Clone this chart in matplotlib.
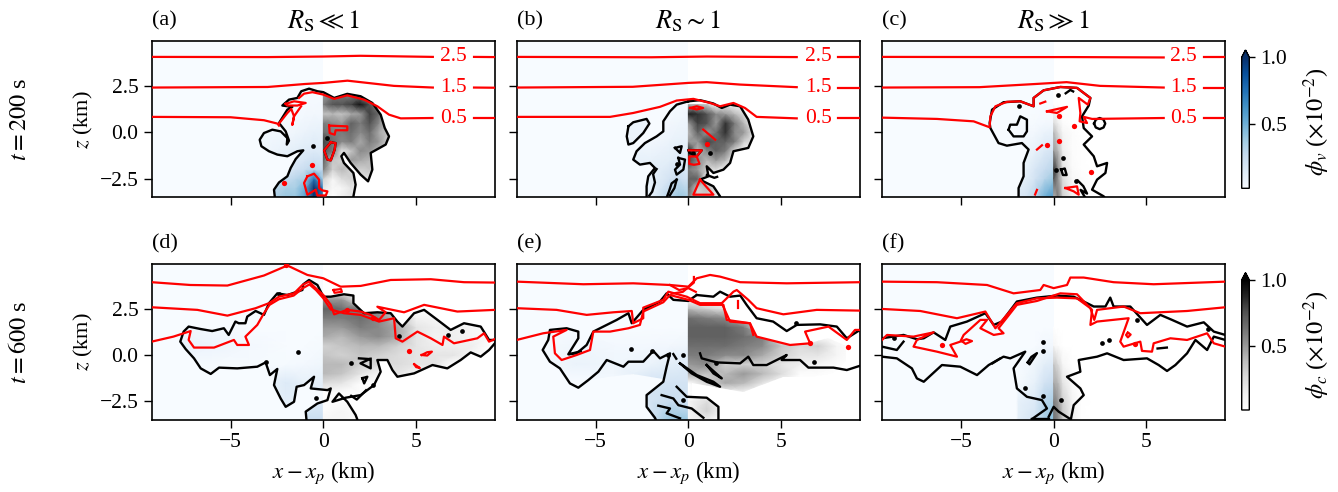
import numpy as np
import matplotlib
matplotlib.use("Agg")
import matplotlib.pyplot as plt
from matplotlib.patches import Polygon
from matplotlib.colors import Normalize
from matplotlib.cm import ScalarMappable

plt.rcParams["font.family"] = ["Liberation Serif", "DejaVu Serif"]
plt.rcParams["mathtext.fontset"] = "stix"

W, H = 1338, 492
XLIM = (-9.25, 9.25)
ZLIM = (-3.5, 4.9)

panel_letters = ["(a)", "(b)", "(c)", "(d)", "(e)", "(f)"]
column_titles = [r"$R_{\mathrm{S}} \ll 1$", r"$R_{\mathrm{S}} \sim 1$", r"$R_{\mathrm{S}} \gg 1$"]
row_times = [r"$t = 200$ s", r"$t = 600$ s"]
x_ticks = [-5, 0, 5]
z_ticks = [-2.5, 0, 2.5]
z_tick_labels = ["\u22122.5", "0.0", "2.5"]
contour_labels = ["2.5", "1.5", "0.5"]
contour_label_z = [4.06, 2.41, 0.77]

# -----------------------------
# panel (a)
# -----------------------------
x_gray_a = [0, .5, 1, 1.5, 2, 2.5, 3, 3.5, 4]
z_gray_a = [-3.5, -3, -2.5, -2, -1.5, -1, -.5, 0, .5, 1, 1.5, 2, 2.5]
gray_a = [[.15, .05, .15, .2, 0, 0, 0, 0, 0],
          [.2, .08, .1, .2, .1, 0, 0, 0, 0],
          [.3, .1, .25, .3, .25, .2, 0, 0, 0],
          [.6, .3, .4, .3, .3, .35, .2, 0, 0],
          [.7, .35, .3, .5, .45, .4, .3, 0, 0],
          [.75, .6, .2, .35, .55, .5, .4, .2, 0],
          [.8, .65, .55, .6, .45, .6, .5, .3, .25],
          [.65, .6, .6, .65, .55, .65, .45, .35, .2],
          [.6, .55, .5, .7, .6, .75, .55, .3, 0],
          [.35, .4, .35, .45, .5, .8, .65, .2, 0],
          [.6, .75, .75, .8, .95, .75, .5, 0, 0],
          [.5, .6, .6, .6, .6, .3, 0, 0, 0],
          [0, 0, 0, 0, 0, 0, 0, 0, 0]]
x_blue_a = [-3.5, -3, -2.5, -2, -1.5, -1, -.5, 0]
z_blue_a = [-3.5, -3, -2.5, -2, -1.5, -1, 0, 1, 2.5]
blue_a = [[.35, .35, .35, .4, .4, .55, 1., .7],
          [.3, .3, .3, .35, .35, .5, 1., .7],
          [.2, .2, .2, .25, .3, .35, .75, .35],
          [.15, .15, .15, .15, .2, .25, .3, .25],
          [.1, .1, .1, .12, .15, .18, .22, .2],
          [.06, .06, .08, .1, .12, .14, .15, .14],
          [.05, .05, .05, .05, .06, .08, .1, .1],
          [.03, .03, .03, .03, .04, .04, .05, .05],
          [.02, .02, .02, .02, .02, .02, .02, .02]]
main_a = [(-2.62, -3.6), (-2.62, -3.45), (-2.66, -3.09), (-2.39, -2.70), (-1.94, -2.37), (-1.76, -1.92), (-1.49, -1.44), (-1.08, -0.97),
          (-1.40, -1.02), (-1.94, -1.29), (-2.48, -1.20), (-2.93, -1.02), (-3.34, -0.75), (-3.43, -0.40), (-3.20, -0.04),
          (-2.75, 0.14), (-2.30, 0.05), (-1.94, -0.31), (-1.97, -0.66), (-1.85, -0.45), (-2.03, 0.05), (-2.39, 0.50), (-1.94, 1.22),
          (-1.67, 1.37), (-2.21, 1.44), (-1.85, 1.76), (-1.40, 1.85), (-1.19, 2.21), (-0.77, 2.35), (-0.32, 2.21), (0, 2.16),
          (0.58, 1.85), (1.29, 2.07), (2.01, 1.94), (2.64, 1.58), (3.09, 0.95), (3.31, 0.23), (3.54, -0.22), (3.36, -0.66),
          (2.55, -1.11), (2.64, -2.01), (2.41, -2.64), (2.01, -2.28), (1.47, -1.65), (1.11, -1.11), (0.97, -1.29), (1.11, -1.65),
          (1.62, -2.19), (1.74, -2.82), (1.62, -3.45), (1.62, -3.6)]
black_a = [main_a,
           [(0.40, -0.54), (0.66, -0.58), (0.61, -0.93), (0.40, -1.51), (0.22, -1.47), (0.04, -0.97), (0.40, -0.54)]]
red_a = [[(-9.25, 4.06), (-3, 4.05), (0, 4.08), (2, 4.12), (5.9, 4.06)], [(8.12, 4.06), (9.25, 4.05)],
         [(-9.25, 2.41), (-3, 2.44), (-1, 2.6), (0, 2.66), (1.3, 2.78), (3.8, 2.5), (5.9, 2.41)], [(8.12, 2.41), (9.25, 2.40)],
         [(-9.25, 0.83), (-5, 0.81), (-3.2, 0.65), (-2.48, 0.47), (-2.39, 0.36)],
         [(-1.31, 1.85), (-1.04, 2.08), (-0.59, 2.16), (0, 2.03), (0.58, 1.80), (1.29, 1.99), (2.19, 1.76), (2.91, 1.40),
          (3.54, 0.95), (4.17, 0.75), (5.88, 0.77)], [(8.12, 0.77), (9.25, 0.77)],
         [(-2.03, 1.53), (-1.58, 1.67), (-0.95, 1.58), (-1.40, 1.44), (-1.94, 1.44), (-2.03, 1.53)],
         [(-2.39, 0.47), (-1.94, 1.04), (-1.73, 1.26), (-1.58, 0.86), (-1.67, 0.41), (-1.58, 0.86), (-1.20, 1.40)],
         [(0.31, 0.36), (1.29, 0.32), (1.29, 0.11), (0.66, 0.11), (0.61, -0.13), (0.34, -0.04), (0.31, 0.36)],
         [(0.40, -0.54), (0.66, -0.58), (0.61, -0.93), (0.40, -1.51), (0.22, -1.47), (0.04, -0.97), (0.40, -0.54)],
         [(-0.86, -2.37), (-0.50, -2.23), (-0.23, -2.55), (-0.23, -3.0), (-0.05, -3.13), (0.22, -3.18), (0.13, -3.40),
          (-0.32, -3.40), (-0.41, -3.09), (-0.86, -3.36), (-1.04, -2.73), (-0.86, -2.37)]]
black_dots_a = [(-0.54, -0.75), (0.2, -0.3)]
red_dots_a = [(-0.59, -1.78), (-2.12, -2.73)]

# -----------------------------
# panel (b)
# -----------------------------
x_gray_b = [0, .5, 1, 1.5, 2, 2.5, 3, 3.5]
z_gray_b = [-3.5, -3, -2.5, -2, -1.5, -1, -.5, 0, .5, 1, 1.5]
gray_b = [[.6, .3, .3, .2, 0, 0, 0, 0],
          [.7, .3, .4, .2, 0, 0, 0, 0],
          [.7, .7, .1, .1, 0, 0, 0, 0],
          [.6, .5, .3, .25, .1, 0, 0, 0],
          [.8, .55, .4, .5, .4, .1, 0, 0],
          [.9, .4, .55, .7, .6, .25, .1, 0],
          [.5, .5, .8, .7, .7, .6, .3, .2],
          [.4, .7, .5, .65, .85, .55, .5, .2],
          [.5, .8, .75, .5, .85, .6, .4, .1],
          [.9, .85, .75, .55, .5, .4, .25, 0],
          [.4, .4, .3, 0, .2, .1, 0, 0]]
x_blue_b = [-3, -2, -1, -.5, 0]
z_blue_b = [-3.5, -2.5, -1.5, -.5, .5, 1.5]
blue_b = [[.1, .1, .3, .4, .35],
          [.1, .1, .2, .25, .2],
          [.1, .1, .12, .15, .12],
          [.05, .05, .08, .1, .1],
          [.02, .03, .05, .06, .07],
          [0, .01, .02, .03, .04]]
main_b = [(0, 1.67), (-0.63, 1.49), (-0.99, 1.13), (-1.35, 0.59), (-1.35, 0.05), (-1.71, -0.22), (-2.34, -0.58), (-2.79, -1.02),
          (-2.97, -1.47), (-2.61, -1.74), (-2.07, -1.65), (-1.80, -1.92), (-2.16, -2.37), (-2.25, -2.91), (-2.25, -3.6),
          (1.71, -3.6), (1.71, -3.45), (1.35, -2.91), (0.63, -2.55), (1.08, -2.37), (0.99, -1.83), (1.35, -2.19), (1.89, -2.01),
          (2.25, -1.65), (2.43, -1.02), (3.23, -0.84), (3.50, -0.22), (3.23, 0.68), (2.79, 1.40), (2.25, 1.49), (1.80, 1.31),
          (1.35, 1.55), (0.63, 1.73), (0, 1.67)]
blob_b = [(-3.23, 0.32), (-2.97, 0.54), (-2.25, 0.72), (-2.10, 0.47), (-2.43, -0.04), (-2.97, -0.58), (-3.23, -0.66), (-3.32, -0.22), (-3.23, 0.32)]
black_b = [main_b, blob_b,
           [(-0.72, -0.84), (-0.36, -0.75), (-0.45, -1.11), (-0.72, -0.84)],
           [(-0.54, -1.38), (-0.18, -1.47), (-0.27, -2.01), (-0.63, -2.28), (-0.72, -2.01), (-0.45, -1.74), (-0.54, -1.38)],
           [(-1.71, -1.98), (-1.90, -2.25), (-1.8, -2.7), (-1.95, -3.2), (-2.1, -3.4)],
           [(-0.63, -2.55), (-0.9, -2.75), (-1.05, -3.2), (-1.2, -3.6)],
           [(-0.63, -2.55), (-0.75, -3.0), (-1.0, -3.4)],
           [(1.0, -2.3), (1.4, -2.45), (1.55, -2.4)],
           [(0.02, -0.97), (0.72, -0.97), (0.45, -1.3), (0.05, -1.1), (0.02, -0.97)]]
red_b = [[(-9.25, 4.06), (-2, 4.04), (1, 4.08), (5.84, 4.05)], [(8.09, 4.05), (9.25, 4.05)],
         [(-9.25, 2.41), (-3, 2.45), (0, 2.66), (0.99, 2.70), (2.79, 2.57), (5.84, 2.43)], [(8.09, 2.41), (9.25, 2.41)],
         [(-9.25, 0.83), (-4.22, 0.83), (-2.97, 1.04), (-1.53, 1.37), (-0.63, 1.71), (0.27, 1.80), (1.17, 1.58), (1.71, 1.40),
          (2.43, 1.58), (3.05, 1.31), (3.68, 0.83), (5.84, 0.75)], [(8.09, 0.77), (9.25, 0.77)],
         [(0.09, 1.31), (0.45, 1.40), (0.8, 1.31), (0.45, 1.23), (0.09, 1.31)],
         [(0.8, 0.15), (1.45, -0.4)],
         [(0.02, -0.97), (0.72, -0.97), (0.45, -1.3), (0.6, -1.7), (0.3, -1.75), (0.05, -1.7), (0.05, -1.3), (0.45, -1.3)],
         [(0.63, -2.55), (1.35, -3.36), (0.27, -3.36), (0.63, -2.55)]]
black_dots_b = [(1.17, -1.13), (0.27, -1.13), (-0.63, -1.7)]
red_dots_b = [(1.02, -0.61)]

# -----------------------------
# panel (c)
# -----------------------------
x_gray_c = [0, .25, .5, 1, 1.5, 2]
z_gray_c = [-3.5, -2.5, -2, -1, 0, .5, 1.5, 2.5]
gray_c = [[.4, .6, .3, .15, .05, .02],
          [.75, .5, .25, .08, .05, .02],
          [.85, .55, .2, .06, .03, .02],
          [.5, .4, .15, .05, .03, .02],
          [.4, .25, .1, .05, .02, 0],
          [.25, .15, .05, .02, 0, 0],
          [.03, .02, 0, 0, 0, 0],
          [0, 0, 0, 0, 0, 0]]
x_blue_c = [-2, -1.5, -1, -.5, 0]
z_blue_c = [-3.5, -2.5, -2, -1, 0, .5, 1.5, 2.5]
blue_c = [[.15, .2, .3, .5, .6],
          [.1, .12, .2, .3, .4],
          [.08, .1, .18, .25, .3],
          [.04, .06, .1, .15, .2],
          [.02, .04, .05, .08, .1],
          [.01, .02, .03, .04, .05],
          [0, 0, .01, .01, .01],
          [0, 0, 0, 0, 0]]
main_c = [(-1.89, -3.6), (-1.89, -3.0), (-1.62, -2.37), (-1.62, -1.65), (-1.35, -0.93), (-1.71, -0.58), (-2.52, -0.72), (-2.97, -0.58),
          (-3.41, 0.23), (-3.45, 0.50), (-3.32, 1.22), (-2.70, 1.62), (-1.80, 1.67), (-1.08, 1.40), (-1.08, 1.85), (-0.54, 2.26),
          (0.36, 2.44), (1.26, 2.39), (1.98, 1.85), (1.89, 1.44), (1.53, 0.86), (1.62, 0.23), (2.07, -0.22), (1.62, -0.66),
          (2.16, -1.29), (2.34, -1.83), (2.88, -1.65), (2.79, -2.19), (2.34, -2.55), (2.07, -3.09), (2.70, -3.45), (2.8, -3.6)]
black_c = [main_c,
           [(-2.43, 0.14), (-2.34, 0.41), (-1.98, 0.41), (-1.8, 0.86), (-1.44, 0.68), (-1.44, 0.05), (-1.62, -0.22), (-2.16, -0.22), (-2.43, 0.14)],
           [(2.18, 0.47), (2.27, 0.68), (2.48, 0.77), (2.69, 0.68), (2.78, 0.47), (2.69, 0.26), (2.48, 0.17), (2.27, 0.26), (2.18, 0.47)],
           [(0.4, -2.0), (0.6, -1.95), (0.7, -2.3), (0.5, -2.3), (0.4, -2.0)],
           [(1.3, -2.6), (1.6, -2.9), (1.8, -3.3), (1.45, -3.1), (1.75, -3.6)],
           [(0.65, 2.1), (0.9, 2.28), (1.05, 2.2)]]
red_c = [[(-9.25, 4.06), (-2, 4.05), (1, 4.05), (5.93, 4.03)], [(8.09, 4.05), (9.25, 4.05)],
         [(-9.25, 2.41), (-4, 2.43), (-1, 2.6), (0.7, 2.7), (2.5, 2.5), (5.93, 2.41)], [(8.09, 2.41), (9.25, 2.41)],
         [(-9.25, 0.79), (-6.29, 0.72), (-4.31, 0.59), (-3.45, 0.27), (-3.41, 0.86), (-3.14, 1.40), (-2.52, 1.64), (-1.80, 1.67),
          (-1.08, 1.40), (-1.08, 1.85), (-0.54, 2.26), (0.36, 2.44), (1.26, 2.39), (1.98, 1.85), (1.84, 1.49), (1.35, 1.85),
          (1.44, 1.04), (1.40, 0.59), (1.80, 0.50), (1.62, 0.83), (2.07, 0.72), (5.93, 0.77)], [(8.09, 0.77), (9.25, 0.77)],
         [(-0.36, 1.13), (0.72, 1.37), (0.18, 1.04), (-0.36, 1.13)],
         [(-0.63, -0.70), (-0.9, -0.93)],
         [(-0.72, 1.55), (-0.45, 1.65)],
         [(-0.9, -3.1), (-1.0, -3.35)],
         [(0.63, -3.0), (1.26, -2.91), (1.35, -3.36), (1.08, -3.18), (0.63, -3.0)]]
black_dots_c = [(-1.89, 1.44), (0.23, 1.99), (0.5, -1.38), (0.13, -2.01), (1.2, -2.6)]
red_dots_c = [(0.27, 0.86), (1.08, 0.36), (0.27, -0.49), (2.03, -2.16), (-0.36, -0.7)]

# -----------------------------
# panel (d)
# -----------------------------
x_gray_d = [0, 1, 2, 3, 4, 5, 6, 7, 8, 9]
z_gray_d = [-3.5, -3, -2.5, -2, -1.5, -1, -.5, 0, .5, 1, 1.5, 2, 2.5, 3, 3.5]
gray_d = [[.1, .1, 0, 0, 0, 0, 0, 0, 0, 0],
          [.05, .1, .05, 0, 0, 0, 0, 0, 0, 0],
          [.03, .05, .05, 0, 0, 0, 0, 0, 0, 0],
          [.08, .05, .05, 0, 0, 0, 0, 0, 0, 0],
          [.25, .2, .05, 0, 0, 0, 0, 0, 0, 0],
          [.4, .35, .2, .1, .2, .1, 0, 0, 0, 0],
          [.4, .4, .3, .25, .25, .2, .2, 0, 0, 0],
          [.35, .3, .35, .3, .25, .2, .2, .2, .1, 0],
          [.3, .35, .4, .4, .3, .2, .15, .15, .15, 0],
          [.45, .4, .5, .55, .45, .2, .12, .15, .1, .1],
          [.5, .5, .6, .55, .45, .2, .15, .15, .1, 0],
          [.6, .6, .65, .55, .35, .12, .1, 0, 0, 0],
          [.7, .65, .6, .5, 0, 0, 0, 0, 0, 0],
          [.5, .5, 0, 0, 0, 0, 0, 0, 0, 0],
          [0, 0, 0, 0, 0, 0, 0, 0, 0, 0]]
x_blue_d = [-8, -6, -4, -2, -1, 0]
z_blue_d = [-3.5, -2.5, -1.5, -.5, .5, 1.5, 3]
blue_d = [[0, 0, 0, .1, .25, .25],
          [0, 0, 0, .12, .12, .15],
          [0, 0, 0, .15, .1, .12],
          [.03, .03, .03, .03, .04, .06],
          [.1, .07, .04, .02, .02, .03],
          [.06, .04, .02, .01, .01, .02],
          [0, 0, 0, 0, 0, 0]]
main_d = [(0, 3.14), (-0.32, 3.77), (-0.77, 4.04), (-1.08, 3.81), (-1.13, 3.50), (-1.94, 3.23), (-2.48, 3.32), (-2.93, 2.79),
          (-3.2, 2.16), (-3.65, 2.37), (-4.1, 2.07), (-4.2, 1.71), (-4.56, 1.71), (-4.74, 1.80), (-5.1, 1.08), (-5.36, 1.44),
          (-5.99, 1.29), (-6.62, 1.40), (-7.26, 1.53), (-7.53, 1.26), (-7.71, 0.72), (-7.42, 0.32), (-6.97, -0.18), (-6.61, -0.72),
          (-6.07, -1.02), (-5.62, -0.68), (-4.64, -0.72), (-3.56, -0.63), (-3.11, -0.40), (-2.88, -1.08), (-2.48, -0.75),
          (-2.66, -1.62), (-2.3, -2.34), (-2.03, -2.79), (-1.58, -2.52), (-1.44, -1.71), (-1.04, -1.62), (-0.5, -1.17),
          (-0.68, -1.80), (0.22, -1.89), (0.40, -1.80), (0.22, -2.43), (-0.32, -2.61), (-0.95, -3.05), (-0.9, -3.6), (1.83, -3.6),
          (1.83, -3.47), (1.74, -3.23), (1.29, -2.52), (0.84, -2.07), (0.49, -2.52), (1.2, -2.3), (2.01, -2.16), (2.73, -1.62),
          (3.09, -0.9), (2.91, -0.27), (3.45, -0.27), (3.72, -0.81), (3.99, -1.17), (4.89, -0.99), (5.88, -0.54), (6.68, -0.72),
          (7.4, -0.27), (7.94, 0.14), (8.48, -0.09), (8.93, 0.27), (9.4, 0.81), (8.93, 0.81), (8.48, 1.53), (7.58, 1.71),
          (6.86, 1.35), (6.15, 1.89), (5.43, 2.43), (4.89, 2.25), (4.26, 1.53), (3.99, 1.8), (3.63, 2.25), (2.91, 2.3), (2.19, 2.25),
          (1.62, 2.79), (1.62, 3.2), (1.11, 3.27), (0.40, 3.14), (0, 3.14)]
black_d = [main_d,
           [(1.92, -0.18), (2.5, -0.22), (2.0, -0.45), (2.55, -0.72), (2.55, -0.2)],
           [(2.1, -1.25), (2.37, -1.17), (2.2, -1.53), (2.1, -1.25)],
           [(1.5, -2.2), (1.8, -2.4), (2.3, -1.9)]]
red_d = [[(-9.25, 3.92), (-7.17, 3.77), (-5.17, 3.74), (-3.2, 4.28), (-1.94, 4.82), (-0.86, 4.31), (0, 4.13), (0.93, 3.68),
          (2.01, 3.72), (3.63, 4.04), (5.79, 4.08), (7.58, 3.92), (9.25, 3.9)],
         [(-9.25, 2.57), (-6.79, 2.43), (-5.17, 2.12), (-3.65, 2.52), (-2.93, 2.79), (-2.39, 3.14), (-1.58, 3.32), (-1.13, 3.77),
          (-0.77, 3.95), (-0.5, 3.68), (0, 3.23), (0.4, 2.7), (0.58, 2.19), (1.29, 2.43), (2.0, 2.34), (2.55, 2.16), (3.0, 1.89),
          (3.36, 2.3), (2.91, 2.6), (4.35, 2.3), (5.43, 2.7), (7.22, 2.34), (9.25, 2.43)],
         [(-9.25, 0.72), (-8.08, 0.99), (-7.15, 1.29), (-7.26, 0.81), (-6.97, 0.4), (-5.89, 0.4), (-4.82, 0.81), (-4.64, 0.54),
          (-4.01, 0.54), (-4.2, 0.99), (-3.56, 1.62), (-3.2, 2.25), (-2.9, 2.7), (-2.4, 3.0), (-1.6, 3.2), (-1.1, 3.6), (-0.75, 3.8),
          (-0.4, 3.5), (0, 3.05), (0.4, 2.45), (1.11, 2.25), (2.01, 2.16), (3.0, 1.8), (3.81, 1.98), (3.9, 0.9), (4.26, 0.72),
          (5.07, 1.26), (5.79, 0.9), (6.42, 0.54), (6.5, 0.99), (7.04, 0.63), (8.3, 0.9), (8.66, 1.17), (8.93, 0.72), (9.25, 0.86)],
         [(5.3, 0.0), (5.6, 0.15), (5.85, 0.18), (5.6, -0.03), (5.3, 0.0)],
         [(0.55, 3.5), (0.95, 3.55), (1.0, 3.4), (0.6, 3.35), (0.55, 3.5)],
         [(4.9, -0.5), (5.0, -0.65), (5.2, -0.7), (4.9, -0.5)]]
black_dots_d = [(-1.37, 0.14), (-3.11, -0.40), (1.47, -0.45), (-0.41, -2.34), (7.49, 1.29), (4.08, 1.02), (6.74, 1.08), (-2.4, 3.3), (2.7, -1.6)]
red_dots_d = [(4.6, 0.2), (2.7, 2.0), (1.3, 2.4), (-2.0, 4.85)]

# -----------------------------
# panel (e)
# -----------------------------
x_gray_e = [0, 1, 2, 3, 4, 5, 6, 7, 8, 9]
z_gray_e = [-3.5, -3, -2.5, -2, -1.5, -1, -.5, 0, .5, 1, 1.5, 2, 2.5, 3]
gray_e = [[.1, .15, 0, 0, 0, 0, 0, 0, 0, 0],
          [.1, .3, 0, 0, 0, 0, 0, 0, 0, 0],
          [.1, .25, 0, 0, 0, 0, 0, 0, 0, 0],
          [0, 0, .1, .1, 0, 0, 0, 0, 0, 0],
          [0, .3, .45, .4, .2, .05, 0, 0, 0, 0],
          [.45, .35, .4, .5, .4, .25, .05, .05, 0, 0],
          [.5, .55, .3, .3, .3, .2, .15, .1, .05, 0],
          [.6, .6, .55, .55, .45, .3, .2, .2, .1, 0],
          [.65, .65, .65, .6, .55, .35, .25, .3, .1, 0],
          [.7, .7, .7, .65, .6, 0, 0, 0, 0, 0],
          [.7, .7, .7, .6, 0, 0, 0, 0, 0, 0],
          [.65, .6, .55, .3, 0, 0, 0, 0, 0, 0],
          [.4, .3, .2, 0, 0, 0, 0, 0, 0, 0],
          [0, 0, 0, 0, 0, 0, 0, 0, 0, 0]]
x_blue_e = [-8, -6, -4, -2, -1, 0]
z_blue_e = [-3.5, -2.5, -1.5, -.5, .5, 1.5, 3]
blue_e = [[0, 0, 0, .2, .4, .4],
          [0, 0, 0, .2, .25, .2],
          [0, .02, .05, .2, .2, .2],
          [.03, .08, .06, .08, .12, .15],
          [.03, .06, .04, .04, .05, .06],
          [.01, .01, .01, .01, .01, .01],
          [0, 0, 0, 0, 0, 0]]
clip_e = [(0, 2.91), (-0.81, 2.97), (-1.17, 3.32), (-1.53, 2.88), (-2.43, 2.43), (-3.05, 1.71), (-3.23, 2.25), (-3.86, 1.89), (-4.22, 1.71),
          (-5.12, 1.26), (-5.48, 0.54), (-6.02, 0.09), (-6.47, 0.04), (-5.93, 0.9), (-5.93, 1.26), (-6.56, 1.44), (-7.46, 1.35), (-7.55, 0.81),
          (-7.85, 0.27), (-7.46, -0.36), (-6.92, -0.72), (-6.38, -1.53), (-5.93, -1.76), (-5.39, -1.35), (-4.4, -1.2), (-3, -1.0),
          (-1.35, -1.3), (-1.35, -1.44), (-2.25, -2.16), (-2.25, -2.79), (-1.8, -3.6), (1.62, -3.6), (1.62, -2.79), (0.99, -2.3), (0.2, -2.2),
          (0.2, -1.5), (1.71, -1.8), (2.97, -2.0), (5.12, -1.17), (6.56, -1.17), (7.82, -0.99), (8.5, -0.3), (8.5, 0.5), (7.55, 0.9),
          (6.56, 0.63), (5.48, 0.54), (3.68, 0.99), (3.32, 1.71), (2.07, 1.89), (1.89, 2.7), (0.63, 2.7), (0, 2.97)]
black_e = [[(0.45, 3.23), (1.35, 3.14), (1.71, 3.41), (2.25, 3.14), (2.8, 3.2), (3.14, 2.7), (3.68, 1.98), (4.57, 1.8), (5.3, 1.29), (5.84, 1.62),
            (7.1, 1.65), (8.0, 1.53), (8.54, 0.9), (9.25, 1.35)],
           [(0.45, 3.23), (0, 2.91), (-0.81, 2.97), (-1.17, 3.32), (-1.53, 2.88), (-2.43, 2.43), (-3.05, 1.71), (-3.23, 2.25), (-3.86, 1.89), (-4.22, 1.71),
            (-5.12, 1.26), (-5.48, 0.54), (-6.02, 0.09), (-6.47, 0.04), (-5.93, 0.9), (-5.93, 1.26), (-6.56, 1.44), (-7.46, 1.35), (-7.55, 0.81),
            (-7.85, 0.27), (-7.46, -0.36), (-6.92, -0.72), (-6.38, -1.53), (-5.93, -1.76), (-5.39, -1.35), (-4.85, -0.9), (-4.4, -0.27), (-3.5, -0.63),
            (-3.23, -0.36), (-2.43, -0.36), (-1.89, 0.22), (-1.53, -0.18), (-0.99, 0.09), (-1.17, -0.63), (-1.35, -1.44), (-2.25, -2.16),
            (-2.25, -2.79), (-1.8, -3.38), (-1.7, -3.6)],
           [(0.63, 0.09), (0.72, -0.18), (1.53, -0.4), (2.79, -0.45), (3.23, -0.09), (3.5, -0.54), (4.22, -0.54), (5.3, 0), (5.03, -0.27), (6.02, -0.27),
            (6.47, -0.68), (7.82, -0.68), (8.54, -0.81), (9.25, -0.58)],
           [(-0.45, -0.45), (0.45, -1.08), (1.35, -1.44), (1.71, -1.71), (0.99, -1.44), (0.18, -0.99), (-0.45, -0.45)],
           [(0.99, -0.54), (1.80, -1.26), (1.35, -0.99), (0.99, -0.54)],
           [(-1.44, -2.16), (-0.81, -2.34), (-0.54, -2.7), (0.18, -2.88), (0.81, -3.38)],
           [(-1.62, -2.73), (-0.99, -2.88), (-1.17, -3.14), (-0.45, -3.41)],
           [(-0.63, -1.71), (-0.09, -2.25), (0.99, -2.3), (1.62, -2.79), (1.62, -3.6)],
           [(-0.81, 0.05), (-0.65, -0.2)],
           [(-6.4, 0.05), (-5.8, 0.2)]]
red_e = [[(-9.25, 3.95), (-5.66, 3.81), (-2.97, 3.86), (-0.99, 3.77), (0, 3.68), (0.45, 4.13), (1.17, 4.31), (1.71, 4.22), (2.79, 3.92),
          (5.3, 3.86), (9.25, 3.92)],
         [(-9.25, 2.52), (-7.1, 2.43), (-5.48, 2.16), (-4.04, 2.3), (-3.05, 2.37), (-2.97, 1.71), (-2.43, 1.98), (-2.43, 2.55), (-1.35, 2.97),
          (-1.08, 3.41), (-0.09, 3.14), (0.63, 2.79), (1.8, 2.79), (2.25, 1.8), (3.32, 1.71), (3.5, 1.08)],
         [(1.8, 2.79), (2.43, 3.41), (2.61, 3.5), (3.23, 2.97), (3.68, 2.52), (5.12, 2.19), (6.92, 2.43), (9.25, 2.39)],
         [(-9.25, 0.81), (-7.82, 1.17), (-6.56, 1.35), (-7.28, 0.99), (-7.19, 0.09), (-6.83, -0.27), (-6.02, 0), (-5.3, 0.27), (-5.12, 1.26),
          (-4.22, 1.26), (-3.23, 1.44), (-2.61, 1.62), (-2.43, 2.34), (-1.35, 2.84), (-0.99, 3.23), (0, 2.97), (0.63, 2.7), (1.89, 2.7),
          (2.07, 1.89), (3.32, 1.71), (3.68, 0.99), (5.48, 0.54), (6.56, 0.63), (6.29, 1.26), (7.55, 1.53), (8.54, 0.81), (8.98, 1.35), (9.25, 1.35)],
         [(-0.99, 3.77), (-0.5, 3.5), (0, 3.6), (0.4, 3.4)],
         [(-0.9, 3.3), (-0.3, 3.4), (0.3, 3.9), (0.3, 4.2)],
         [(2.7, 2.9), (2.7, 2.55)]]
black_dots_e = [(-3.11, 0.31), (-1.98, 0.2), (-1.08, 0.0), (-0.27, 0.0), (1.5, -0.41), (6.77, -0.36), (-0.3, -2.4), (5.8, 1.75)]
red_dots_e = [(8.63, 0.45), (6.56, 0.66)]

# -----------------------------
# panel (f)
# -----------------------------
x_gray_f = [0, .25, .5, 1, 1.5, 2]
z_gray_f = [-3.5, -2.5, -1.5, -.5, .5, 1.5]
gray_f = [[.65, .55, .35, .15, .03, 0],
          [.6, .5, .3, .12, .03, 0],
          [.45, .4, .2, .06, .02, 0],
          [.35, .25, .1, .03, 0, 0],
          [.1, .05, .02, 0, 0, 0],
          [0, 0, 0, 0, 0, 0]]
x_blue_f = [-2, -1.9, -1, -.5, 0]
z_blue_f = [-3.5, -2.5, -1.5, -.5, .5, 1.5]
blue_f = [[0, .12, .2, .35, .45],
          [0, .1, .15, .3, .35],
          [0, .03, .1, .2, .25],
          [0, .02, .06, .12, .15],
          [0, .01, .02, .05, .05],
          [0, 0, 0, 0, 0]]
black_f = [[(-9.25, 0.9), (-8.09, 1.08), (-7.37, 0.85), (-7.0, 0.9), (-6.47, 1.22), (-5.84, 0.81), (-5.57, 1.53), (-4.67, 1.8), (-3.68, 2.25), (-3.23, 1.62),
            (-2.79, 1.8), (-1.98, 2.88), (-0.9, 3.09), (0.18, 3.2), (1.08, 3.14), (1.8, 2.79), (2.16, 2.61), (2.79, 2.61), (3.05, 3.09),
            (3.23, 2.61), (4.13, 2.61), (5.03, 1.62), (5.75, 2.16), (6.38, 1.89), (7.19, 1.53), (8.09, 1.76), (8.63, 1.26), (9.25, 1.08)],
           [(9.25, 0.81), (8.63, 0.99), (8.27, 0.27), (7.64, 0.81), (7.19, 0.09), (6.56, -0.54), (6.11, -0.86), (5.66, -0.54), (5.03, -0.18),
            (3.77, -0.27), (2.88, 0.09), (2.34, -0.09), (1.35, -0.27), (1.44, -0.9), (0.72, -1.17), (1.44, -1.8), (1.62, -2.16), (1.08, -2.7),
            (0.9, -3.6)],
           [(-1.17, -3.45), (-0.36, -2.88), (-0.63, -2.43), (-1.44, -2.25), (-1.98, -1.8), (-2.16, -0.72), (-1.53, 0.18), (-2.34, -0.18),
            (-2.7, -0.09), (-3.5, -0.54), (-4.13, -1.08), (-5.03, -0.63), (-6.02, -0.54), (-7.0, -1.44), (-7.37, -1.26), (-7.64, -0.72),
            (-8.45, -0.18), (-9.25, -0.09)],
           [(-9.25, 0.45), (-8.45, 0.27), (-8.09, 0.72)],
           [(-0.27, -3.33), (0, -2.79), (0.27, -3.05), (0.9, -3.45)],
           [(-1.4, -0.4), (-1.2, -0.1), (-0.9, 0.1), (-1.3, -0.5), (-1.4, -0.4)],
           [(-1.17, -3.45), (-0.27, -3.45)],
           [(5.6, 0.35), (6.1, 0.4)], [(-3.3, -0.45), (-2.9, -0.2)]]
red_f = [[(-9.25, 3.95), (-6.29, 3.92), (-3.59, 3.77), (-2.16, 3.32), (-0.72, 3.5), (-0.54, 3.77), (0, 3.6), (0.72, 3.77), (0.9, 4.17), (1.62, 4.17),
          (3.23, 3.92), (5.39, 3.81), (9.25, 3.95)],
         [(-9.25, 2.48), (-7.19, 2.37), (-5.21, 1.98), (-3.68, 2.34), (-3.14, 1.44), (-1.98, 2.79), (-0.9, 3.05), (0.18, 3.09), (1.26, 3.05),
          (1.98, 2.52), (2.19, 1.89), (2.34, 2.43), (3.77, 2.61), (4.67, 2.25), (7.19, 2.37), (9.25, 2.57)],
         [(-9.25, 0.81), (-8.98, 1.08), (-7.55, 0.99), (-6.47, 1.22), (-7.37, 0.81), (-7.55, 0.45), (-6.29, 0.18), (-5.21, -0.09), (-5.57, 0.54),
          (-5.03, 0.72), (-4.85, 1.08), (-3.95, 1.89), (-3.59, 1.89), (-3.95, 1.44), (-3.23, 1.08), (-2.7, 1.17), (-2.97, 1.44), (-1.98, 2.7),
          (-0.9, 2.91), (0.36, 3.32), (1.26, 3.27), (2.07, 2.43), (1.98, 1.62), (2.34, 1.8), (4.04, 1.98), (3.59, 0.72), (3.77, 0.45),
          (4.67, 0.72), (4.76, 0.22), (5.3, 0.18), (5.39, 0.63), (6.29, 0.9), (7.19, 0.81), (8.27, 1.17), (8.63, 0.63), (9.25, 0.45)],
         [(4.0, 1.2), (4.15, 1.1), (4.0, 0.95), (3.9, 1.08), (4.0, 1.2)],
         [(-4.95, 0.75), (-4.7, 0.85), (-4.4, 0.75), (-4.75, 0.6), (-4.95, 0.75)]]
black_dots_f = [(-0.6, 0.7), (-0.55, 0.2), (-1.55, -1.8), (-0.6, -2.2), (0.4, -2.4), (3.0, 0.8), (2.6, 0.65), (4.5, 1.9), (8.3, 1.4), (-8.6, 0.9)]
red_dots_f = [(-6.0, 0.55), (4.4, 0.6)]

grays = [(x_gray_a, z_gray_a, gray_a), (x_gray_b, z_gray_b, gray_b), (x_gray_c, z_gray_c, gray_c),
         (x_gray_d, z_gray_d, gray_d), (x_gray_e, z_gray_e, gray_e), (x_gray_f, z_gray_f, gray_f)]
blues = [(x_blue_a, z_blue_a, blue_a), (x_blue_b, z_blue_b, blue_b), (x_blue_c, z_blue_c, blue_c),
         (x_blue_d, z_blue_d, blue_d), (x_blue_e, z_blue_e, blue_e), (x_blue_f, z_blue_f, blue_f)]
clips = [main_a, main_b, main_c, main_d, clip_e, None]
black_paths = [black_a, black_b, black_c, black_d, black_e, black_f]
red_paths = [red_a, red_b, red_c, red_d, red_e, red_f]
black_dots = [black_dots_a, black_dots_b, black_dots_c, black_dots_d, black_dots_e, black_dots_f]
red_dots = [red_dots_a, red_dots_b, red_dots_c, red_dots_d, red_dots_e, red_dots_f]

# -----------------------------
# layout (pixels of the 1338x492 picture)
# -----------------------------
col_left = [151.7, 516.7, 882]
col_width = 343.3
row_top = [41.3, 264]
row_height = 156


def px_axes(left, top, width, height):
    return fig.add_axes([left / W, 1 - (top + height) / H, width / W, height / H])


fig = plt.figure(figsize=(W / 100, H / 100), dpi=100)
norm = Normalize(vmin=0.02, vmax=1.0)
bg_blue = plt.get_cmap("Blues")(0.0)

for i in range(6):
    row, col = divmod(i, 3)
    ax = px_axes(col_left[col], row_top[row], col_width, row_height)
    ax.set_xlim(*XLIM)
    ax.set_ylim(*ZLIM)
    ax.axvspan(XLIM[0], 0, color=bg_blue, lw=0, zorder=0)

    for (xs, zs, vals), cmap in ((blues[i], "Blues"), (grays[i], "Greys")):
        mesh = ax.pcolormesh(xs, zs, np.array(vals), shading="gouraud", cmap=cmap, norm=norm, zorder=1)
        if clips[i] is not None:
            patch = Polygon(clips[i], closed=True, transform=ax.transData)
            mesh.set_clip_path(patch)
    if i == 1:
        ax.fill(*zip(*blob_b), color=plt.get_cmap("Blues")(0.06), lw=0, zorder=1)

    for path in black_paths[i]:
        px, pz = zip(*path)
        ax.plot(px, pz, color="black", lw=1.7, zorder=3, solid_joinstyle="round")
    for path in red_paths[i]:
        px, pz = zip(*path)
        ax.plot(px, pz, color="red", lw=1.6, zorder=4, solid_joinstyle="round")
    px, pz = zip(*black_dots[i])
    ax.plot(px, pz, "o", color="black", ms=3.4, mew=0, zorder=3)
    px, pz = zip(*red_dots[i])
    ax.plot(px, pz, "o", color="red", ms=3.8, mew=0, zorder=4)

    if row == 0:
        for lab, zv in zip(contour_labels, contour_label_z):
            ax.text(7.0, zv, lab, color="red", fontsize=15.5, ha="center", va="center")
        ax.set_title(column_titles[col], fontsize=19, pad=9)

    ax.text(0, 1.07, panel_letters[i], transform=ax.transAxes, fontsize=16, ha="left", va="bottom")

    ax.set_xticks(x_ticks)
    ax.set_yticks(z_ticks)
    ax.tick_params(length=5.5, width=1, labelsize=15.5, pad=4)
    ax.set_yticklabels(z_tick_labels if col == 0 else [])
    if row == 1:
        ax.set_xticklabels(["\u22125", "0", "5"])
        ax.set_xlabel(r"$x - x_p$ (km)", fontsize=16.5, labelpad=5)
    else:
        ax.set_xticklabels([])
    if col == 0:
        ax.set_ylabel(r"$z$ (km)", fontsize=16, labelpad=3)
    for s in ax.spines.values():
        s.set_linewidth(1.2)

for y_px, label in zip([119, 342], row_times):
    fig.text(20 / W, 1 - y_px / H, label, rotation=90, fontsize=17.5, ha="center", va="center")

# -----------------------------
# colour bars
# -----------------------------
cbar_tops = [50, 272.7]
cbar_bottoms = [188.3, 410]
cbar_names = ["Blues", "Greys"]
cbar_labels = [r"$\phi_v$ ($\times 10^{-2}$)", r"$\phi_c$ ($\times 10^{-2}$)"]
cbar_label_y = [122, 345]
for top, bot, name, lab, ly in zip(cbar_tops, cbar_bottoms, cbar_names, cbar_labels, cbar_label_y):
    cax = px_axes(1241.7, top, 7.6, bot - top)
    cb = fig.colorbar(ScalarMappable(norm=norm, cmap=name), cax=cax, extend="max", extendfrac=0.055)
    cb.set_ticks([0.5, 1.0])
    cb.set_ticklabels(["0.5", "1.0"])
    cb.ax.tick_params(length=4, width=1, labelsize=15.5, pad=4)
    cb.outline.set_linewidth(1.0)
    fig.text(1317 / W, 1 - ly / H, lab, rotation=90, fontsize=17.5, ha="center", va="center")

fig.savefig("out.png", dpi=100)
